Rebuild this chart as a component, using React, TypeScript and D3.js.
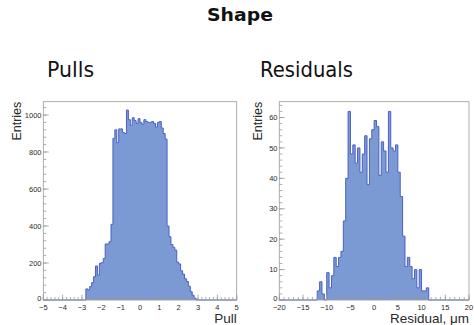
import React from "react";
import * as d3 from "d3";

// ---------- data ----------
// Pulls: 100 bins of width 0.1 on [-5, 5]; non-zero bins start at -2.8
const pullRange = [-5, 5];
const pullBinWidth = 0.1;
const pullFirstLow = -2.8;
const pullCounts = [
  60, 55, 72, 94, 126, 184, 135, 198, 202, 225, 303, 303, 315, 409,
  874, 920, 850, 925, 925, 905, 900, 1027, 975, 945, 985, 970, 955, 980,
  960, 950, 975, 965, 960, 960, 965, 955, 935, 960, 965, 930, 900, 870,
  400, 342, 300, 285, 270, 205, 195, 158, 140, 115, 100, 75, 45, 25, 10,
];
const pullXTicks = [-5, -4, -3, -2, -1, 0, 1, 2, 3, 4, 5];
const pullYTicks = [0, 200, 400, 600, 800, 1000];

// Residuals: 80 bins of width 0.5 on [-20, 20]; non-zero bins start at -12
const resRange = [-20, 20];
const resBinWidth = 0.5;
const resFirstLow = -12;
const resCounts = [
  3, 6, 2, 0, 9, 4, 8, 14, 11, 14, 16, 26, 40, 62,
  48, 51, 45, 50, 42, 48, 54, 38, 53, 56, 59, 57, 41, 52, 49, 42, 62,
  50, 49, 51, 42, 34, 21, 11, 14, 11, 7, 10, 4, 10, 3, 3, 4,
];
const resXTicks = [-20, -15, -10, -5, 0, 5, 10, 15, 20];
const resYTicks = [0, 10, 20, 30, 40, 50, 60];

const W = 474;
const H = 325;
const FILL = "#7b9ad4";
const LINE = "#4a60c4";
const AXIS = "#9a9a9a";
const LABEL = "#2a2a2a";
const TICKFONT = "'Liberation Sans', Arial, sans-serif";
const TITLEFONT = "'DejaVu Sans', sans-serif";

type PanelProps = {
  x0: number; x1: number; y0: number; y1: number;
  range: number[]; binWidth: number; firstLow: number; counts: number[];
  yMax: number; xTicks: number[]; xMinor: number; yTicks: number[]; yMinor: number;
  xTitle: string; yTitle: string; yTitleX: number;
};

function fmt(v: number) {
  return v < 0 ? "\u2212" + Math.abs(v) : String(v);
}

function Panel(p: PanelProps) {
  const x = d3.scaleLinear().domain(p.range).range([p.x0, p.x1]);
  const y = d3.scaleLinear().domain([0, p.yMax]).range([p.y1, p.y0]);
  const nBins = Math.round((p.range[1] - p.range[0]) / p.binWidth);
  const startIdx = Math.round((p.firstLow - p.range[0]) / p.binWidth);
  const bins = d3.range(nBins).map((i) => {
    const lo = p.range[0] + i * p.binWidth;
    const k = i - startIdx;
    const v = k >= 0 && k < p.counts.length ? p.counts[k] : 0;
    return { lo, hi: lo + p.binWidth, v };
  });
  const pts: [number, number][] = [[x(p.range[0]), y(0)]];
  bins.forEach((b) => {
    pts.push([x(b.lo), y(b.v)]);
    pts.push([x(b.hi), y(b.v)]);
  });
  pts.push([x(p.range[1]), y(0)]);
  const line = d3.line();
  const d = line(pts) || "";

  const xMinorTicks = d3
    .range(Math.round((p.range[1] - p.range[0]) / p.xMinor) + 1)
    .map((i) => p.range[0] + i * p.xMinor);
  const yMinorTicks = d3
    .range(Math.floor(p.yMax / p.yMinor) + 1)
    .map((i) => i * p.yMinor);

  return (
    <g>
      <path d={d + "Z"} fill={FILL} stroke="none" />
      <path d={d} fill="none" stroke={LINE} strokeWidth={1} />
      {/* frame */}
      <rect x={p.x0} y={p.y0} width={p.x1 - p.x0} height={p.y1 - p.y0}
        fill="none" stroke={AXIS} strokeWidth={0.8} />
      {/* x ticks */}
      {xMinorTicks.map((t, i) => (
        <line key={"xm" + i} x1={x(t)} x2={x(t)} y1={p.y1} y2={p.y1 - 3}
          stroke={AXIS} strokeWidth={0.8} />
      ))}
      {p.xTicks.map((t, i) => (
        <line key={"xM" + i} x1={x(t)} x2={x(t)} y1={p.y1} y2={p.y1 - 5.5}
          stroke={AXIS} strokeWidth={0.8} />
      ))}
      {p.xTicks.map((t, i) => (
        <text key={"xl" + i} x={x(t)} y={p.y1 + 9.5} textAnchor="middle"
          fontFamily={TICKFONT} fontSize={7.5} fill={LABEL}>{fmt(t)}</text>
      ))}
      {/* y ticks */}
      {yMinorTicks.map((t, i) => (
        <line key={"ym" + i} x1={p.x0} x2={p.x0 + 3} y1={y(t)} y2={y(t)}
          stroke={AXIS} strokeWidth={0.8} />
      ))}
      {p.yTicks.map((t, i) => (
        <line key={"yM" + i} x1={p.x0} x2={p.x0 + 5.5} y1={y(t)} y2={y(t)}
          stroke={AXIS} strokeWidth={0.8} />
      ))}
      {p.yTicks.map((t, i) => (
        <text key={"yl" + i} x={p.x0 - 1.8} y={y(t) + (t === 0 ? 1.2 : 2.6)} textAnchor="end"
          fontFamily={TICKFONT} fontSize={7.5} fill={LABEL}>{fmt(t)}</text>
      ))}
      <text x={p.x1} y={p.y1 + 23} textAnchor="end" fontFamily={TICKFONT}
        fontSize={13.5} fill={LABEL}>{p.xTitle}</text>
      <text transform={`translate(${p.yTitleX},${p.y0}) rotate(-90)`} textAnchor="end"
        fontFamily={TICKFONT} fontSize={12.5} fill={LABEL}>{p.yTitle}</text>
    </g>
  );
}

export default function App() {
  return (
    <svg width={W} height={H} style={{ position: "absolute", left: 0, top: 0, background: "#fff" }}>
      <rect x={0} y={0} width={W} height={H} fill="#fff" />
      <text x={240} y={21} textAnchor="middle" fontFamily={TITLEFONT} fontWeight="bold"
        fontSize={18} fill="#111" textLength={66} lengthAdjust="spacingAndGlyphs">Shape</text>
      <text x={47} y={77} fontFamily={TITLEFONT} fontSize={20.5} fill="#111">Pulls</text>
      <text x={260} y={77} fontFamily={TITLEFONT} fontSize={20.5} fill="#111"
        textLength={93} lengthAdjust="spacingAndGlyphs">Residuals</text>
      <Panel x0={43.3} x1={236.7} y0={101.7} y1={300}
        range={pullRange} binWidth={pullBinWidth} firstLow={pullFirstLow} counts={pullCounts}
        yMax={1072} xTicks={pullXTicks} xMinor={0.2} yTicks={pullYTicks} yMinor={40}
        xTitle="Pull" yTitle="Entries" yTitleX={21} />
      <Panel x0={279.3} x1={469} y0={101.7} y1={300}
        range={resRange} binWidth={resBinWidth} firstLow={resFirstLow} counts={resCounts}
        yMax={65.2} xTicks={resXTicks} xMinor={1} yTicks={resYTicks} yMinor={2}
        xTitle={"Residual, \u03bcm"} yTitle="Entries" yTitleX={262} />
    </svg>
  );
}
